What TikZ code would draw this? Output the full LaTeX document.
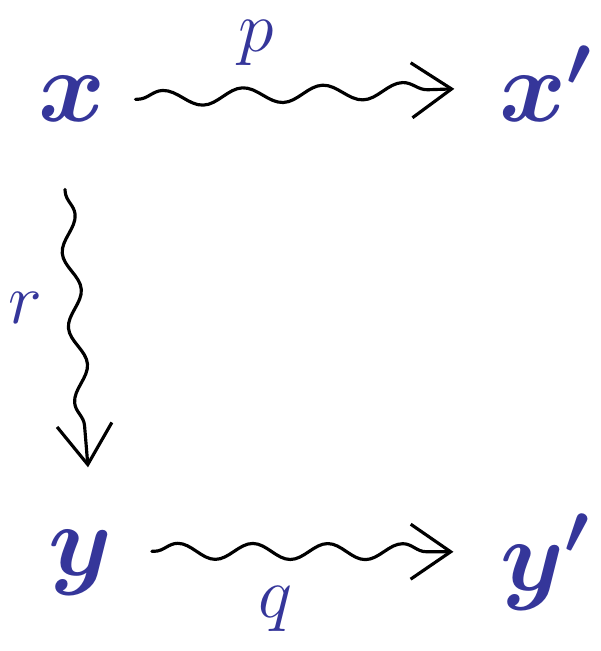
\documentclass[tikz,border=0pt]{standalone}
\usepackage{tikz}
\usetikzlibrary{arrows.meta,decorations.pathmorphing,calc}

\definecolor{inkblue}{HTML}{35369A}

\tikzset{
  obj/.style={text=inkblue, inner sep=1pt, anchor=base, scale=2.33, font=\fontsize{24}{28}\selectfont\boldmath},
  lab/.style={text=inkblue, inner sep=1pt, anchor=base, scale=1.65, font=\fontsize{24}{28}\selectfont},
  squig/.style={line width=1.8pt, line cap=round, line join=round,
    -{Straight Barb[length=0.8cm, width=1.1cm, line width=1.8pt]},
    decorate, decoration={snake, amplitude=0.16cm, segment length=1.6cm,
      pre length=0.05cm, post length=0.3cm}},
}

\begin{document}
\begin{tikzpicture}[x=0.02cm, y=-0.02cm]
  \useasboundingbox (0,0) rectangle (600,651);

  % The objects
  \node[obj] (x) at (72,122) {$x$};
  \node[obj] (xp) at (546,122) {$x'$};
  \node[obj] (y) at (80,575) {$y$};
  \node[obj] (yp) at (546,590) {$y'$};

  % The labels
  \node[lab] (p) at (256,52) {$p$};
  \node[lab] (r) at (25,323) {$r$};
  \node[lab] (q) at (275,617) {$q$};

  % The wavy arrows
  \draw[squig] ($(x.east)+(0.5cm,0)$) -- ($(xp.west)+(-0.8cm,-0.1cm)$);
  \draw[squig, decoration={segment length=1.5cm}]
    ($(x.south)+(-0.14cm,-1.25cm)$) -- ($(y.north)+(0.16cm,1.15cm)$);
  \draw[squig, decoration={segment length=1.5cm}]
    ($(y.east)+(0.7cm,0.22cm)$) -- ($(yp.west)+(-0.85cm,0.2cm)$);

\end{tikzpicture}
\end{document}
